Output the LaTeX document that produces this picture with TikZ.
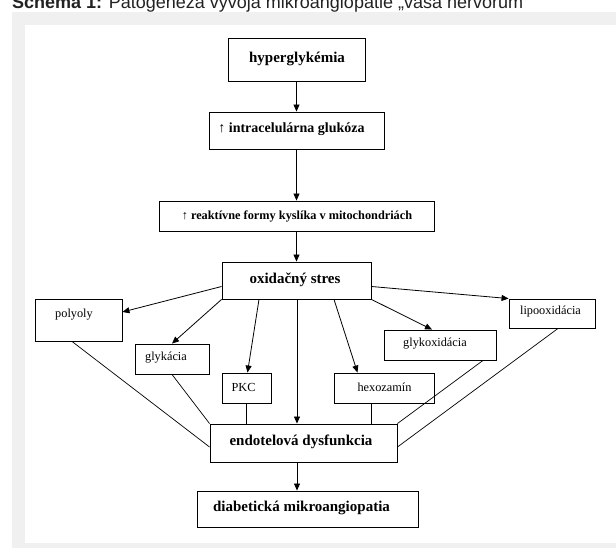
\documentclass[tikz,border=0pt]{standalone}
\usepackage{fontspec}
\setmainfont{Liberation Serif}
\newfontfamily\titlefont{Liberation Sans}
\usetikzlibrary{arrows.meta}
\definecolor{panelgray}{HTML}{F0F0F0}
\definecolor{titlegray}{HTML}{222222}
\begin{document}
\begin{tikzpicture}[x=1pt,y=-1pt,
  box/.style={draw=black, line width=0.9pt, rectangle, inner sep=0pt, anchor=center},
  lbl/.style={inner sep=0pt, anchor=center, font=\fontsize{12.3}{14}\selectfont},
  blbl/.style={inner sep=0pt, anchor=center, font=\fontsize{15}{18}\selectfont\bfseries},
  arr/.style={line width=0.8pt, -{Triangle[length=7pt,width=6pt]}},
  ln/.style={line width=0.7pt}]
\useasboundingbox (0,0) rectangle (616,548);
\clip (0,0) rectangle (616,548);
\fill[panelgray] (12,12) rectangle (616,548);
\fill[white] (25,25) rectangle (616,543);
\node[anchor=base west, inner sep=0pt, font=\titlefont\fontsize{18}{20}\selectfont, text=titlegray] (title) at (12,8.5) {\textbf{Schéma 1:} Patogenéza vývoja mikroangiopatie „vasa nervorum“};
% boxes
\node[box, minimum width=137pt, minimum height=43pt] (hyper) at (296.5,59.5) {};
\node[box, minimum width=175pt, minimum height=37pt] (intra) at (296.5,130.5) {};
\node[box, minimum width=275pt, minimum height=30pt] (reakt) at (296.5,216) {};
\node[box, minimum width=149pt, minimum height=37pt] (oxid) at (296.5,280.5) {};
\node[box, minimum width=87pt, minimum height=42pt] (poly) at (78.5,320) {};
\node[box, minimum width=74pt, minimum height=30pt] (glyk) at (172,359) {};
\node[box, minimum width=49pt, minimum height=30pt] (pkc) at (246.5,388) {};
\node[box, minimum width=100pt, minimum height=30pt] (hexo) at (384,388) {};
\node[box, minimum width=112pt, minimum height=30pt] (glykox) at (440,345) {};
\node[box, minimum width=86pt, minimum height=29pt] (lipo) at (552,313.5) {};
\node[box, minimum width=187pt, minimum height=38pt] (endo) at (303.5,443) {};
\node[box, minimum width=221pt, minimum height=36pt] (diab) at (307.5,509) {};
% texts
\node[blbl] (hypert) at (297,59) {hyperglykémia};
\node[inner sep=0pt, font=\fontsize{14}{16}\selectfont\bfseries] (intrat) at (291.5,129) {↑ intracelulárna glukóza};
\node[inner sep=0pt, font=\fontsize{12.3}{14}\selectfont\bfseries] (reaktt) at (297,216) {↑ reaktívne formy kyslíka v mitochondriách};
\node[blbl] (oxidt) at (295,280) {oxidačný stres};
\node[lbl] (polyt) at (74,315) {polyoly};
\node[lbl] (glykt) at (166,358) {glykácia};
\node[lbl] (pkct) at (243.5,387) {PKC};
\node[lbl] (hexot) at (384.5,387) {hexozamín};
\node[lbl] (glykoxt) at (435,344) {glykoxidácia};
\node[lbl] (lipot) at (550.5,312) {lipooxidácia};
\node[blbl] (endot) at (301,442) {endotelová dysfunkcia};
\node[blbl] (diabt) at (301.5,508) {diabetická mikroangiopatia};
% arrows
\draw[arr] (hyper) -- (intra);
\draw[arr] (intra) -- (reakt);
\draw[arr] (reakt) -- (oxid);
\draw[arr] ([yshift=-6pt]oxid.west) -- ([yshift=8pt]poly.east);
\draw[arr] (oxid.south west) -- (glyk.north);
\draw[arr] ([xshift=-37.5pt]oxid.south) -- ([xshift=1pt]pkc.north);
\draw[arr] ([xshift=0.5pt]oxid.south) -- ([xshift=0.5pt]oxid.south |- endo.north);
\draw[arr] ([xshift=37.5pt]oxid.south) -- ([xshift=-26.5pt]hexo.north);
\draw[arr] (oxid.south east) -- ([xshift=-8pt]glykox.north);
\draw[arr] ([yshift=-6pt]oxid.east) -- (lipo.north west);
% lines
\draw[ln] ([xshift=-6.5pt]poly.south) -- ([yshift=-4pt]endo.west);
\draw[ln] (glyk.south) -- (endo.north west);
\draw[ln] (pkc.south) -- (pkc.south |- endo.north);
\draw[ln] ([xshift=-13pt]hexo.south) -- ([xshift=-13pt]hexo.south |- endo.north);
\draw[ln] ([xshift=43pt]glykox.south) -- (endo.north east);
\draw[ln] ([xshift=6pt]lipo.south) -- ([yshift=-4pt]endo.east);
\draw[arr] ([xshift=-6.5pt]endo.south) -- ([xshift=-6.5pt]endo.south |- diab.north);
\end{tikzpicture}
\end{document}
